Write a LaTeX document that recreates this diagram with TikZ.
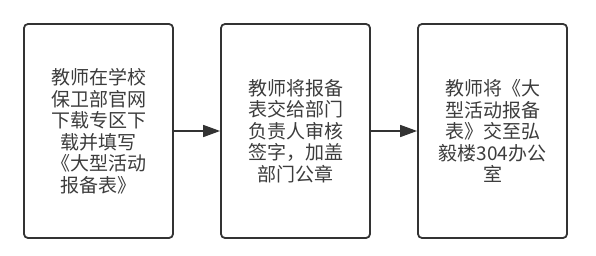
\documentclass[tikz,border=0pt]{standalone}
\usepackage{fontspec}
\setmainfont{Noto Sans CJK SC}
\usetikzlibrary{arrows.meta}
\definecolor{lc}{HTML}{333333}
\definecolor{tc}{HTML}{3C3C3C}
\tikzset{
  stepbox/.style={draw=lc, line width=1.8pt, rounded corners=4pt, minimum width=149pt, minimum height=214pt, inner sep=0pt, align=center, text=tc, font=\fontsize{19pt}{21.5pt}\selectfont},
  flow/.style={draw=lc, line width=1.6pt, -{Triangle[length=17pt,width=12pt]}}
}
\begin{document}
\begin{tikzpicture}[x=1pt,y=1pt]
\useasboundingbox (0,0) rectangle (596,255);
\node[stepbox] (a) at (98.5,124) {教师在学校\\保卫部官网\\下载专区下\\载并填写\\《大型活动\\报备表》};
\node[stepbox] (b) at (295.5,124) {教师将报备\\表交给部门\\负责人审核\\签字，加盖\\部门公章};
\node[stepbox] (c) at (492.5,124) {教师将《大\\型活动报备\\表》交至弘\\毅楼304办公\\室};
\draw[flow] (a) -- (b);
\draw[flow] (b) -- (c);
\end{tikzpicture}
\end{document}
